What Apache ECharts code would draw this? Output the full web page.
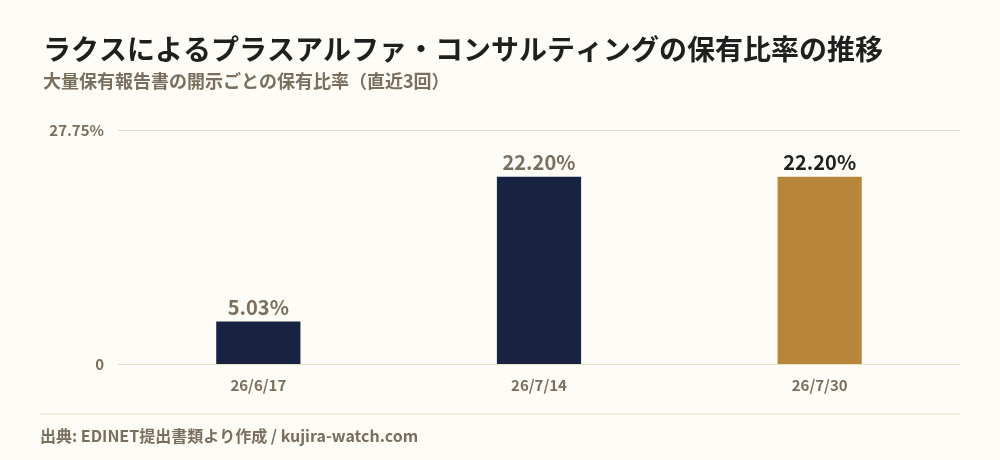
<!DOCTYPE html>
<html style="height: 100%">
<head>
    <meta charset="utf-8">
    <script src="https://cdn.jsdelivr.net/npm/echarts@6/dist/echarts.min.js"></script>
</head>
<body style="height: 100%; margin: 0; background: #fdfcf7">
    <div id="container" style="width: 1000px; height: 460px"></div>
    <script type="text/javascript">

        const dates = ['26/6/17', '26/7/14', '26/7/30'];
        const ratios = [5.03, 22.20, 22.20];
        const barColors = ['#172340', '#172340', '#b8863b'];
        const labelColors = ['#7a6e5f', '#7a6e5f', '#1f1f1f'];
        const yMax = 27.75;

        const font = '"Noto Sans CJK JP", "Noto Sans", sans-serif';
        const gray = '#7a6e5f';

        let chart = echarts.init(document.getElementById('container'));
        chart.setOption({
            backgroundColor: '#fdfcf7',
            textStyle: { fontFamily: font },
            title: {
                text: 'ラクスによるプラスアルファ・コンサルティングの保有比率の推移',
                subtext: '大量保有報告書の開示ごとの保有比率（直近3回）',
                left: 38,
                top: 30,
                itemGap: 9,
                textStyle: { fontFamily: font, fontSize: 28, fontWeight: 'bold', color: '#1f1f1f' },
                subtextStyle: { fontFamily: font, fontSize: 18, fontWeight: 'bold', color: gray }
            },
            grid: { left: 118, right: 40, top: 130, bottom: 96 },
            xAxis: {
                type: 'category',
                data: dates,
                axisLine: { show: false },
                axisTick: { show: false },
                axisLabel: { color: gray, fontSize: 15, fontWeight: 'bold', margin: 14, fontFamily: font }
            },
            yAxis: {
                type: 'value',
                min: 0,
                max: yMax,
                interval: yMax,
                axisLine: { show: false },
                axisTick: { show: false },
                splitLine: { lineStyle: { color: '#e6dcc8', width: 1 } },
                axisLabel: {
                    color: gray, fontSize: 15, fontWeight: 'bold', margin: 14, fontFamily: font,
                    formatter: v => v === 0 ? '0' : v.toFixed(2) + '%'
                }
            },
            series: [{
                type: 'bar',
                barWidth: '30%',
                data: ratios.map((v, i) => ({
                    value: v,
                    itemStyle: { color: barColors[i] },
                    label: { color: labelColors[i] }
                })),
                label: {
                    show: true,
                    position: 'top',
                    distance: 4,
                    fontSize: 20,
                    fontWeight: 'bold',
                    fontFamily: font,
                    formatter: p => p.value.toFixed(2) + '%'
                }
            }],
            graphic: [
                {
                    type: 'line',
                    shape: { x1: 40, y1: 414, x2: 960, y2: 414 },
                    style: { stroke: '#e6dcc8', lineWidth: 1 }
                },
                {
                    type: 'text',
                    left: 40,
                    top: 428,
                    style: {
                        text: '出典: EDINET提出書類より作成 / kujira-watch.com',
                        fill: gray,
                        font: 'bold 16px ' + font
                    }
                }
            ]
        });

    </script>
</body>
</html>
